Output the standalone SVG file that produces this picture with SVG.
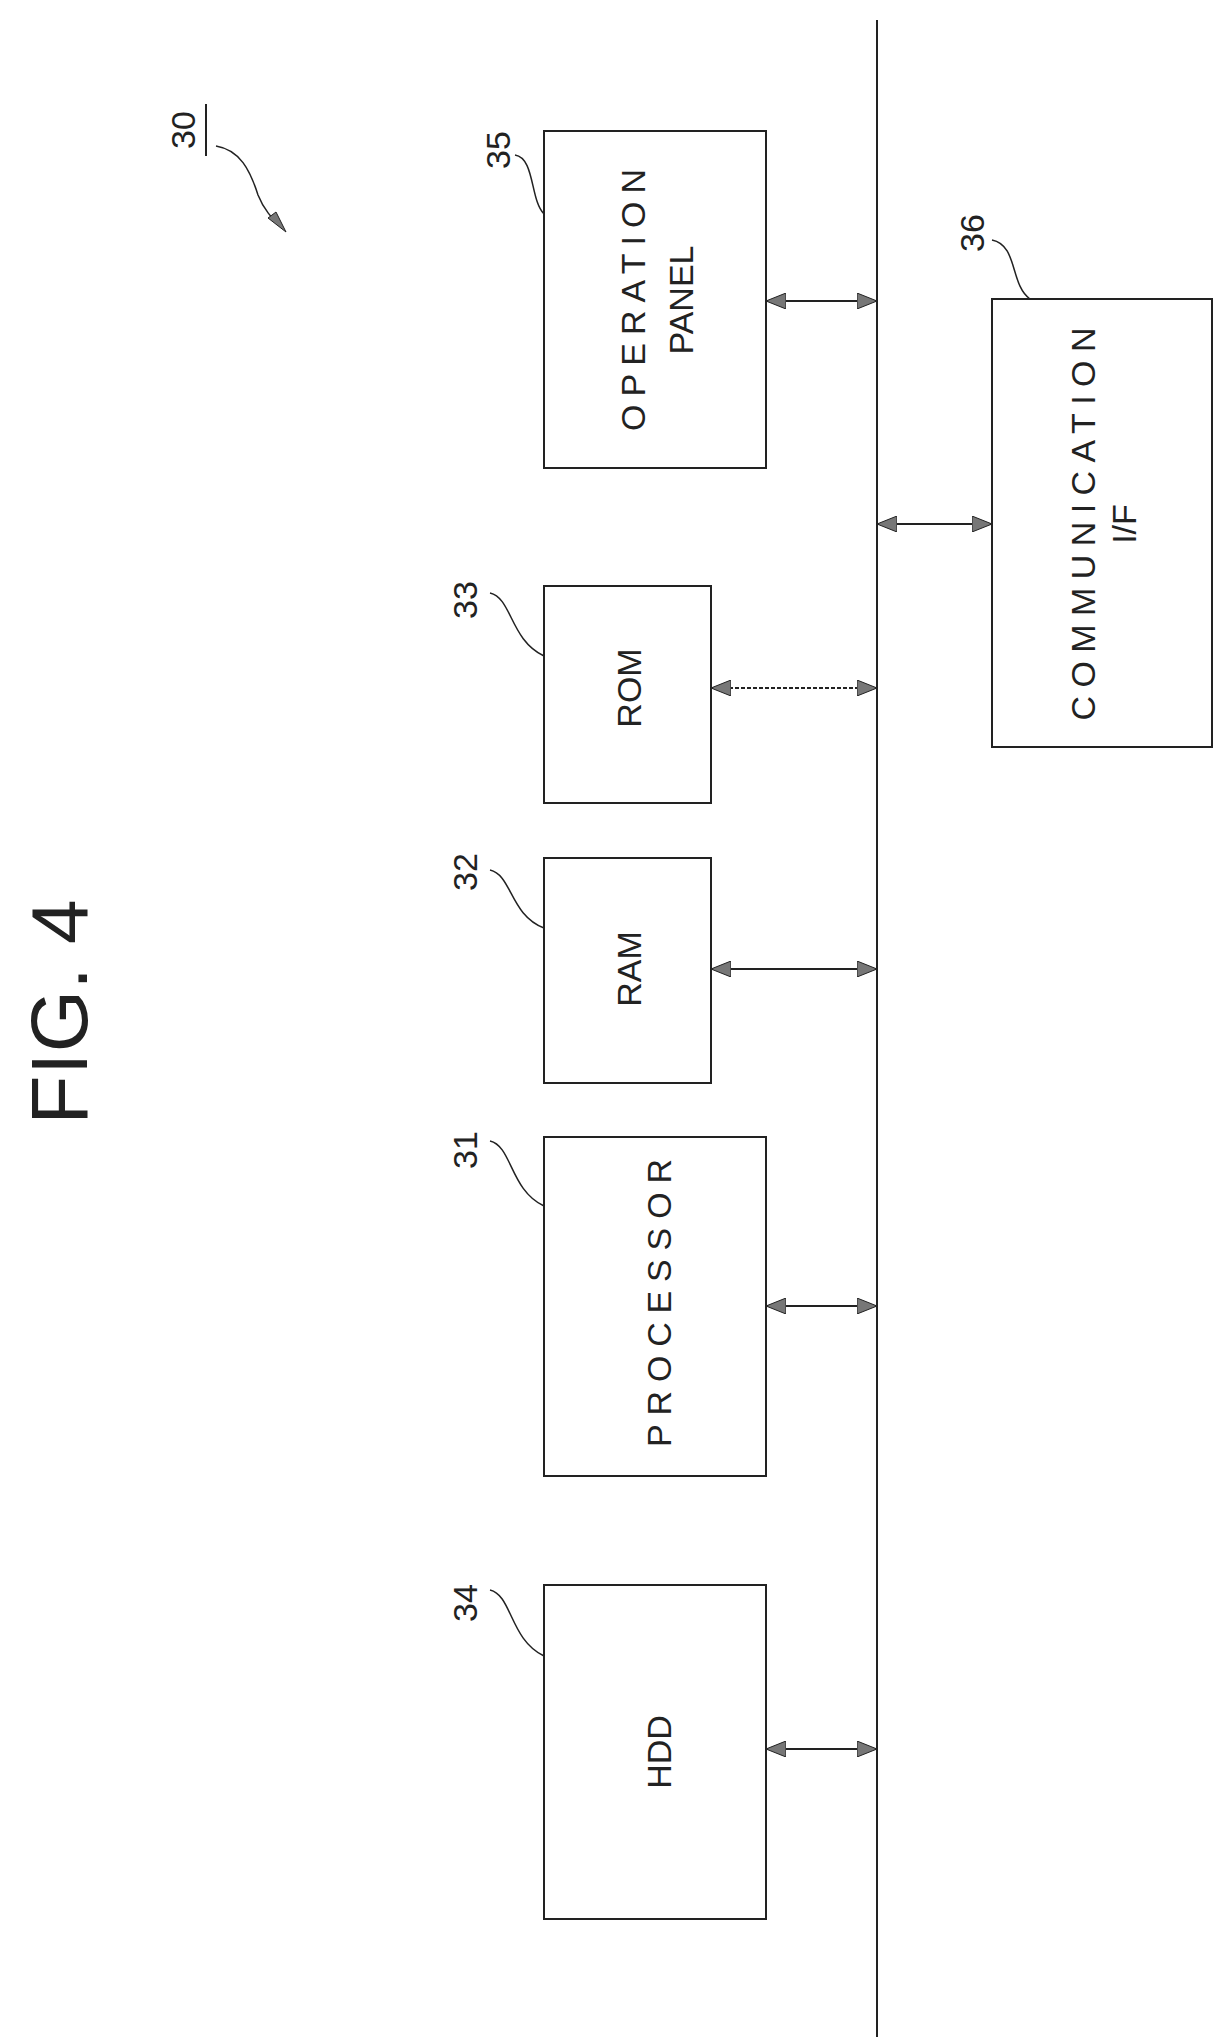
<svg xmlns="http://www.w3.org/2000/svg" width="1231" height="2044" viewBox="0 0 1231 2044">
<style>
.box{fill:#fff;stroke:#222;stroke-width:2}
.t{font-family:"Liberation Sans",Arial,sans-serif;font-size:34px;fill:#222;text-anchor:middle;dominant-baseline:central}
.n{font-family:"Liberation Sans",Arial,sans-serif;font-size:34px;fill:#222;text-anchor:middle;dominant-baseline:central}
.ld{fill:none;stroke:#222;stroke-width:1.5}
.cn{stroke:#222;stroke-width:2;fill:none;marker-start:url(#a);marker-end:url(#a)}
</style>
<defs>
<marker id="a" viewBox="0 0 20 16" refX="20" refY="8" markerWidth="20" markerHeight="16" markerUnits="userSpaceOnUse" orient="auto-start-reverse">
<path d="M0,0 L20,8 L0,16 Z" fill="#777" stroke="#222" stroke-width="1"/>
</marker>
</defs>
<text class="t" style="font-size:80px" transform="rotate(-90 59 1012)" x="59" y="1012" textLength="225">FIG. 4</text>
<g id="label30">
<text class="n" transform="rotate(-90 183 130)" x="183" y="130">30</text>
<line x1="206" y1="104" x2="206" y2="156" stroke="#222" stroke-width="2"/>
<path class="ld" d="M216,146 C240,150 250,170 258,195 C264,210 272,218 280,226"/>
<path d="M268,218 L286,232 L276,212 Z" fill="#777" stroke="#222"/>
</g>
<g id="bus"><line x1="877" y1="20" x2="877" y2="2037" stroke="#222" stroke-width="2"/></g>
<g id="n35">
<rect class="box" x="544" y="131" width="222" height="337"/>
<text class="t" transform="rotate(-90 633 300)" x="633" y="300" textLength="262">OPERATION</text>
<text class="t" transform="rotate(-90 681 300)" x="681" y="300">PANEL</text>
<text class="n" transform="rotate(-90 498 150)" x="498" y="150">35</text>
<path class="ld" d="M515,155 C535,158 530,200 544,214"/>
</g>
<g id="n36">
<rect class="box" x="992" y="299" width="220" height="448"/>
<text class="t" transform="rotate(-90 1083 524)" x="1083" y="524" textLength="393">COMMUNICATION</text>
<text class="t" transform="rotate(-90 1124 524)" x="1124" y="524">I/F</text>
<text class="n" transform="rotate(-90 972 233)" x="972" y="233">36</text>
<path class="ld" d="M992,240 C1018,245 1010,285 1030,299"/>
</g>
<g id="n33">
<rect class="box" x="544" y="586" width="167" height="217"/>
<text class="t" transform="rotate(-90 629 688)" x="629" y="688">ROM</text>
<text class="n" transform="rotate(-90 465 600)" x="465" y="600">33</text>
<path class="ld" d="M490,593 C512,598 510,640 544,656"/>
</g>
<g id="n32">
<rect class="box" x="544" y="858" width="167" height="225"/>
<text class="t" transform="rotate(-90 629 969)" x="629" y="969">RAM</text>
<text class="n" transform="rotate(-90 465 872)" x="465" y="872">32</text>
<path class="ld" d="M490,870 C512,875 510,915 544,928"/>
</g>
<g id="n31">
<rect class="box" x="544" y="1137" width="222" height="339"/>
<text class="t" transform="rotate(-90 659 1303)" x="659" y="1303" textLength="288">PROCESSOR</text>
<text class="n" transform="rotate(-90 465 1150)" x="465" y="1150">31</text>
<path class="ld" d="M490,1141 C512,1146 510,1190 544,1206"/>
</g>
<g id="n34">
<rect class="box" x="544" y="1585" width="222" height="334"/>
<text class="t" transform="rotate(-90 659 1752)" x="659" y="1752">HDD</text>
<text class="n" transform="rotate(-90 465 1603)" x="465" y="1603">34</text>
<path class="ld" d="M490,1590 C512,1595 510,1640 544,1656"/>
</g>
<g id="connectors">
<line class="cn" x1="766" y1="301" x2="877" y2="301"/>
<line class="cn" x1="877" y1="524" x2="992" y2="524"/>
<line class="cn" x1="711" y1="688" x2="877" y2="688" stroke-dasharray="4 2"/>
<line class="cn" x1="711" y1="969" x2="877" y2="969"/>
<line class="cn" x1="766" y1="1306" x2="877" y2="1306"/>
<line class="cn" x1="766" y1="1749" x2="877" y2="1749"/>
</g>
</svg>
